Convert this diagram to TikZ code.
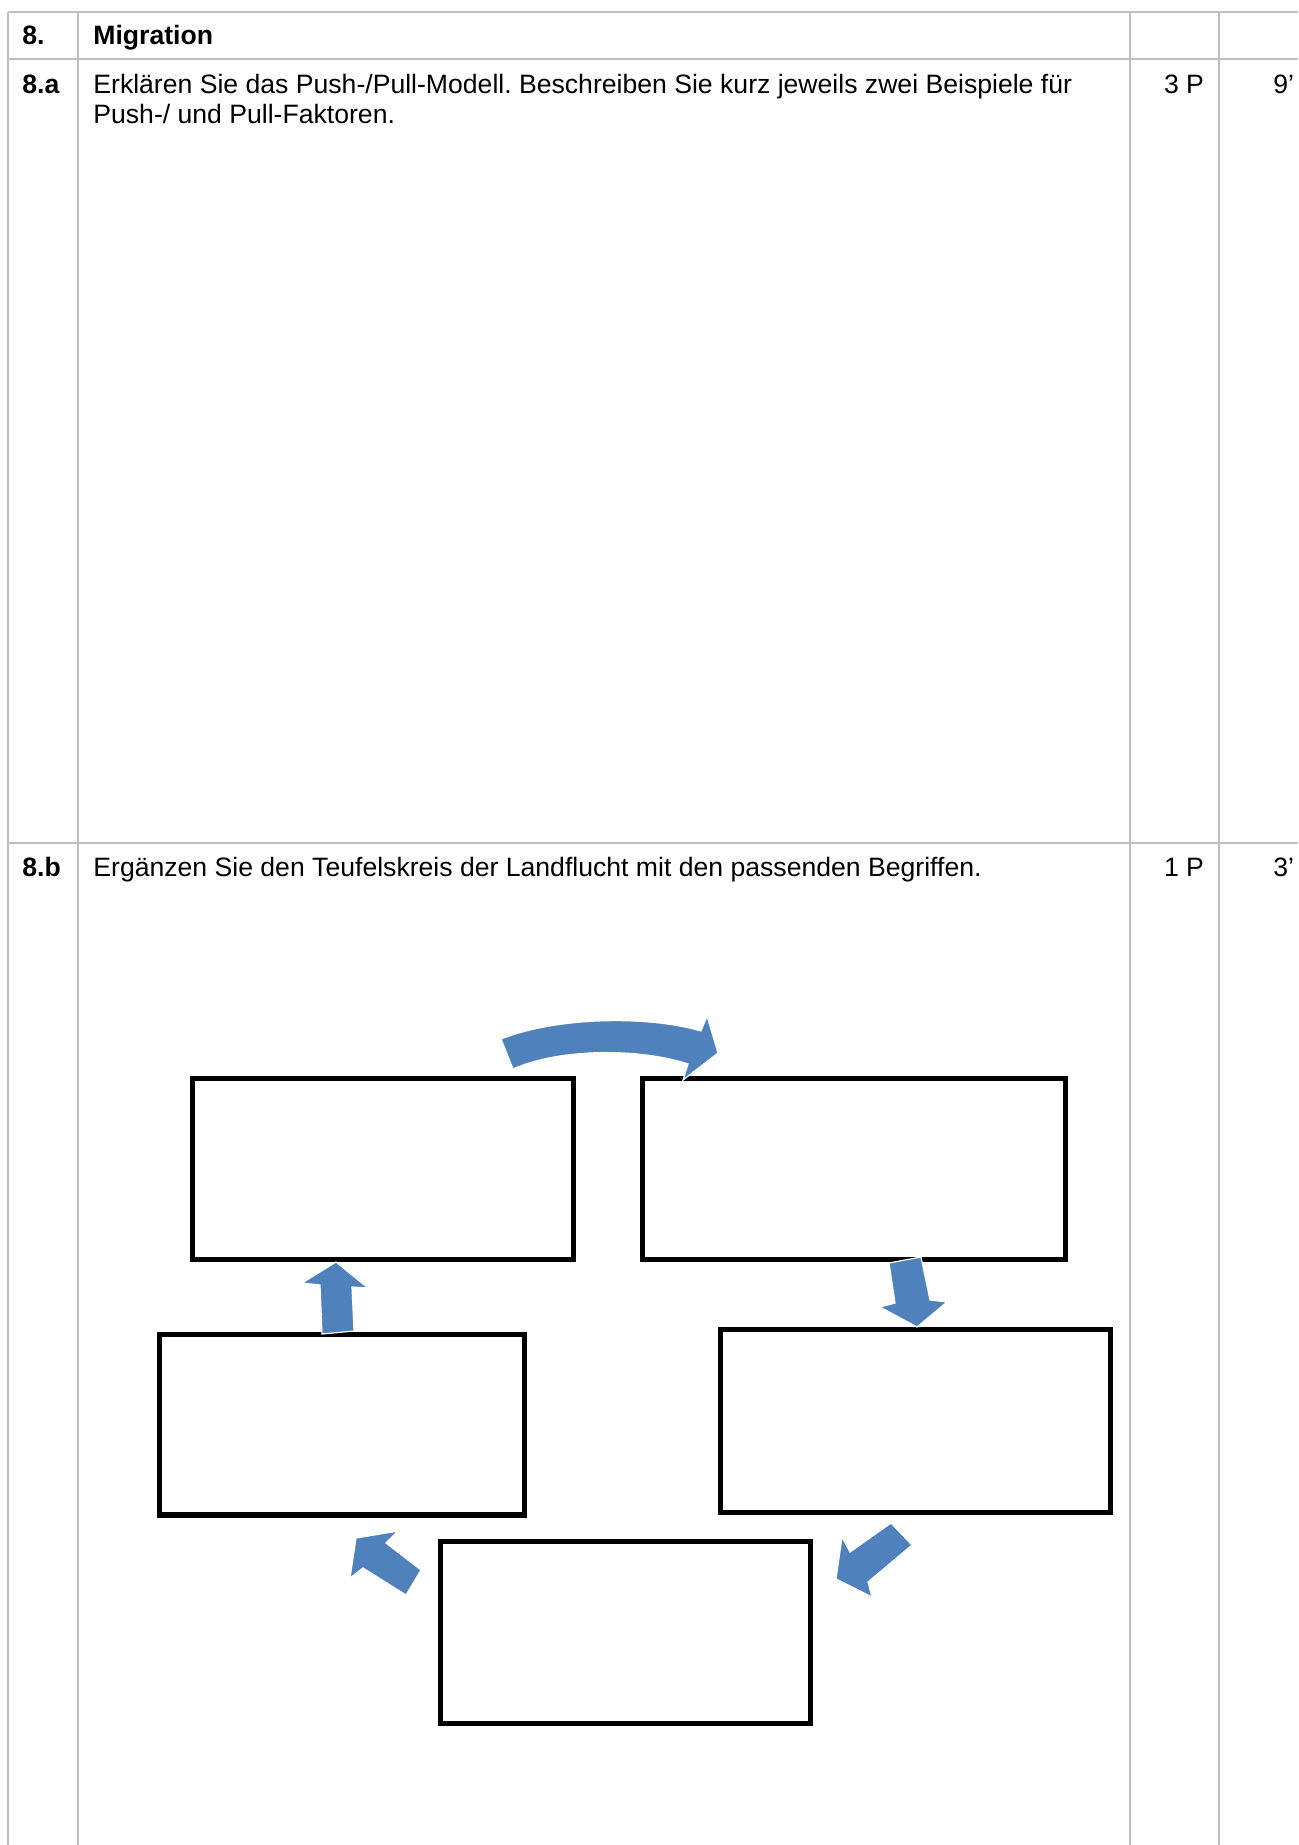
\documentclass[tikz,border=0pt]{standalone}
\usepackage{fontspec}
\setmainfont{Liberation Sans}
\frenchspacing
\definecolor{gridc}{RGB}{191,191,191}
\definecolor{arrowc}{RGB}{79,129,189}
\begin{document}
\begin{tikzpicture}[x=0.5pt,y=-0.5pt,
  grid/.style={draw=gridc,line width=1pt},
  box/.style={draw=black,line width=2.7pt,fill=white,inner sep=0pt,outer sep=0pt,rectangle},
  blk/.style={fill=arrowc,draw=white,line width=0.6pt,line join=miter},
  txt/.style={inner sep=0pt,anchor=base west,font=\fontsize{13.3pt}{15pt}\selectfont},
  ctxt/.style={inner sep=0pt,anchor=base,font=\fontsize{13.3pt}{15pt}\selectfont},
  ]
\useasboundingbox (0,0) rectangle (1298,1845);
\fill[white] (0,0) rectangle (1298,1845);
% table grid
\draw[grid] (8,12) -- (1298,12);
\draw[grid] (8,59) -- (1298,59);
\draw[grid] (8,843) -- (1298,843);
\draw[grid] (8,12) -- (8,1845);
\draw[grid] (78,12) -- (78,1845);
\draw[grid] (1130,12) -- (1130,1845);
\draw[grid] (1219,12) -- (1219,1845);
% texts
\node[txt] (n8) at (22,44.5) {\bfseries 8.};
\node[txt] (title) at (93,44.5) {\bfseries Migration};
\node[txt] (n8a) at (22,93.5) {\bfseries 8.a};
\node[txt] (qa1) at (93,93.5) {Erklären Sie das Push-/Pull-Modell. Beschreiben Sie kurz jeweils zwei Beispiele für};
\node[txt] (qa2) at (93,123.5) {Push-/ und Pull-Faktoren.};
\node[ctxt] (pa) at (1184,93.5) {3 P};
\node[txt] (ta) at (1273,93.5) {9’};
\node[txt] (n8b) at (22,876.5) {\bfseries 8.b};
\node[txt] (qb) at (93,876.5) {Ergänzen Sie den Teufelskreis der Landflucht mit den passenden Begriffen.};
\node[ctxt] (pb) at (1184,876.5) {1 P};
\node[txt] (tb) at (1273,876.5) {3’};
% boxes
\node[box,minimum width={381*0.5pt},minimum height={181*0.5pt}] (b1) at (383,1169) {};
\node[box,minimum width={423*0.5pt},minimum height={181*0.5pt}] (b2) at (854,1169) {};
\node[box,minimum width={390*0.5pt},minimum height={183*0.5pt}] (b3) at (915.5,1421) {};
\node[box,minimum width={370*0.5pt},minimum height={182*0.5pt}] (b4) at (625.5,1632.5) {};
\node[box,minimum width={365*0.5pt},minimum height={180.5*0.5pt}] (b5) at (342,1424.75) {};
% block arrows
\filldraw[blk] (501,1039) .. controls (560,1016) and (650,1016) .. (701,1031) -- (707,1016) -- (718,1053) -- (683,1080) -- (688,1064) .. controls (640,1048) and (560,1048) .. (513,1069) -- cycle;
\filldraw[blk] (889,1263) -- (921,1257) -- (930,1300) -- (947,1302) -- (917,1327) -- (880,1307) -- (895,1303) -- cycle;
\filldraw[blk] (891,1523) -- (912,1545) -- (868,1582) -- (872,1597) -- (836,1579) -- (842,1537) -- (850,1552) -- cycle;
\filldraw[blk] (421,1570) -- (406,1595) -- (363,1568) -- (350,1578) -- (356,1538) -- (398,1531) -- (386,1543) -- cycle;
\filldraw[blk] (336,1262) -- (368,1288) -- (352,1287) -- (354,1331) -- (322,1334) -- (320,1285) -- (302,1283) -- cycle;
\end{tikzpicture}
\end{document}
